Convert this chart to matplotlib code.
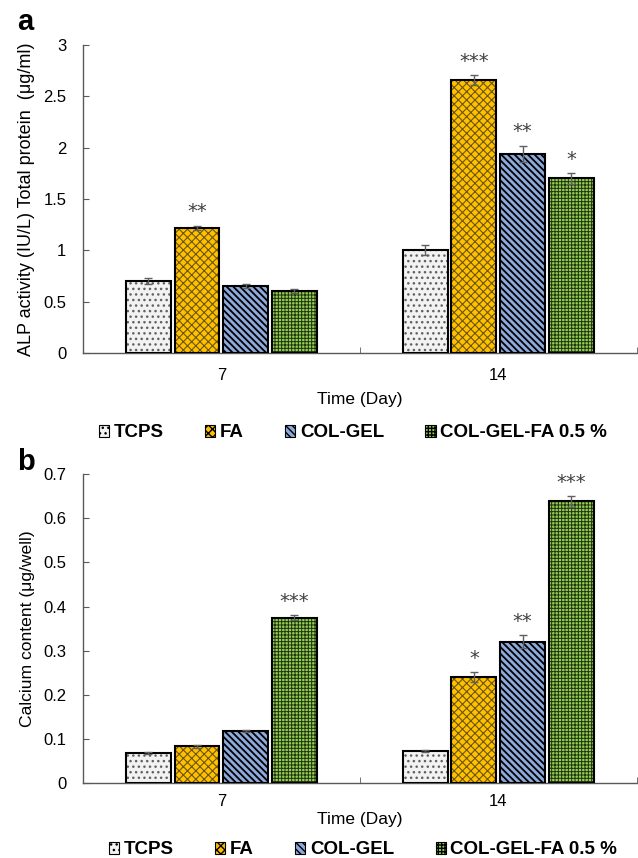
import numpy as np
import matplotlib
matplotlib.use("Agg")
import matplotlib.pyplot as plt
from matplotlib.patches import Patch
from matplotlib.ticker import FixedLocator

plt.rcParams['font.family'] = ['Liberation Sans', 'DejaVu Sans']

# data
days = ['7', '14']
groups = ['TCPS', 'FA', 'COL-GEL', 'COL-GEL-FA 0.5 %']

alp = [[0.70, 1.00], [1.22, 2.66], [0.65, 1.94], [0.60, 1.70]]
alp_err = [[0.03, 0.05], [0.02, 0.05], [0.02, 0.08], [0.02, 0.05]]
alp_sig = [['', ''], ['**', '***'], ['', '**'], ['', '*']]

calc = [[0.068, 0.072], [0.083, 0.240], [0.118, 0.320], [0.375, 0.638]]
calc_err = [[0.002, 0.002], [0.004, 0.012], [0.003, 0.015], [0.005, 0.012]]
calc_sig = [['', ''], ['', '*'], ['', '**'], ['***', '***']]

# styles
fills = ['#F2F2F2', '#FFC000', '#8EA9DB', '#92D050']
hatch_col = ['#606060', '#6b5410', '#000000', '#203010']
hatches = ['...', 'xxxx', '\\\\\\\\\\', '+++++']
hatch_lw = [1.0, 0.8, 1.3, 0.7]
offsets = [-0.264, -0.088, 0.088, 0.264]
width = 0.162
star_col = '#404040'


def draw_panel(ax, vals, errs, sigs, ymax, ystep, ylabel, ylsize, tpad, xlpad):
    x = np.arange(len(days))
    for i in range(len(groups)):
        xi = x + offsets[i]
        with plt.rc_context({'hatch.linewidth': hatch_lw[i]}):
            ax.bar(xi, vals[i], width, color=fills[i], hatch=hatches[i],
                   edgecolor=hatch_col[i], linewidth=0, zorder=2)
        ax.bar(xi, vals[i], width, fill=False, edgecolor='black',
               linewidth=1.5, zorder=3)
        ax.errorbar(xi, vals[i], yerr=errs[i], fmt='none', ecolor='#606060',
                    elinewidth=1, capsize=3, capthick=1, zorder=4)
        for j in range(len(days)):
            if sigs[i][j]:
                ax.annotate(sigs[i][j], (xi[j], vals[i][j] + errs[i][j]),
                            xytext=(0, 3), textcoords='offset points',
                            ha='center', va='bottom', fontsize=14,
                            color=star_col, family='DejaVu Sans')
    ticks = np.arange(0, ymax + ystep / 2, ystep)
    ax.set_xlim(-0.5, 1.5)
    ax.set_ylim(0, ymax)
    ax.set_yticks(ticks)
    ax.set_yticklabels([f'{v:g}' for v in ticks])
    ax.set_xticks(x)
    ax.set_xticklabels(days)
    ax.xaxis.set_minor_locator(FixedLocator([-0.5, 0.5, 1.5]))
    ax.tick_params(axis='x', which='major', length=0, labelsize=12, pad=tpad)
    ax.tick_params(axis='x', which='minor', direction='in', length=4,
                   color='#595959')
    ax.tick_params(axis='y', direction='in', length=4, color='#595959',
                   labelsize=12, pad=12)
    for s in ['top', 'right']:
        ax.spines[s].set_visible(False)
    for s in ['left', 'bottom']:
        ax.spines[s].set_color('#595959')
        ax.spines[s].set_linewidth(1)
    ax.set_xlabel('Time (Day)', fontsize=12.5, labelpad=xlpad)
    ax.set_ylabel(ylabel, fontsize=ylsize, labelpad=6)


fig = plt.figure(figsize=(6.38, 8.58), dpi=100)
ax1 = fig.add_axes([0.130, 0.5886, 0.868, 0.359])
ax2 = fig.add_axes([0.130, 0.0874, 0.868, 0.360])

draw_panel(ax1, alp, alp_err, alp_sig, 3, 0.5,
           'ALP activity (IU/L) Total protein  (\u03bcg/ml)', 13, 11, 6)
draw_panel(ax2, calc, calc_err, calc_sig, 0.7, 0.1,
           'Calcium content (\u03bcg/well)', 12.6, 8, 2)

handles = [Patch(facecolor=fills[i], hatch=hatches[i], edgecolor='black',
                 linewidth=0.8) for i in range(len(groups))]
for yc, xc in [(1 - 433 / 858, 353 / 638), (1 - 850 / 858, 363 / 638)]:
    fig.legend(handles, groups, loc='center', bbox_to_anchor=(xc, yc),
               ncol=4, frameon=False, prop={'weight': 'bold', 'size': 13.5},
               handlelength=0.55, handleheight=0.55, handletextpad=0.25,
               columnspacing=2.2, borderaxespad=0)

fig.text(17 / 638, 1 - 22 / 858, 'a', fontsize=21, fontweight='bold',
         va='center', ha='left')
fig.text(17 / 638, 1 - 462 / 858, 'b', fontsize=21, fontweight='bold',
         va='center', ha='left')

fig.savefig('out.png', dpi=100)
